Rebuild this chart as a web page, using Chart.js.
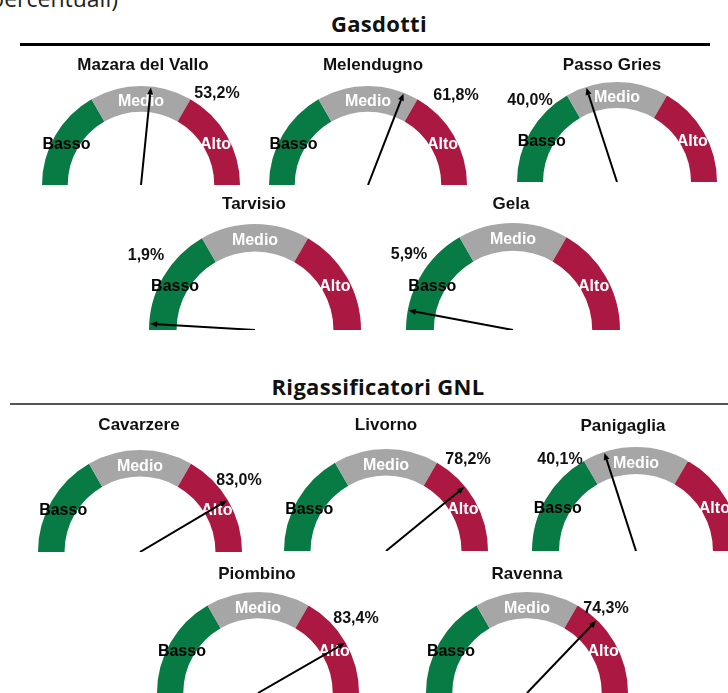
<!DOCTYPE html>
<html><head><meta charset="utf-8">
<script src="https://cdn.jsdelivr.net/npm/chart.js@4.4.0/dist/chart.umd.min.js"></script>
<style>
html,body{margin:0;padding:0;background:#fff;}
#page{position:relative;width:728px;height:693px;overflow:hidden;}
.sec{position:absolute;font-family:"Open Sans",sans-serif;font-weight:700;font-size:22px;line-height:22px;letter-spacing:0.3px;color:#111;text-align:center;white-space:nowrap;}
#note{position:absolute;left:-200px;top:-13px;width:318px;text-align:right;font-family:"Open Sans",sans-serif;font-size:23px;line-height:23px;color:#222;white-space:nowrap;}
.rule{position:absolute;}
.g{position:absolute;}
</style></head><body>
<div id="page">
  <div id="note">percentuali)</div>
  <div class="sec" style="left:179px;top:12px;width:400px">Gasdotti</div>
  <div class="rule" style="left:20px;top:43px;width:690px;height:3px;background:#000"></div>
  <div class="sec" style="left:178px;top:375px;width:400px">Rigassificatori GNL</div>
  <div class="rule" style="left:10px;top:403px;width:718px;height:2px;background:#555"></div>
</div>
<script>
// ---- data ----
const bands = ["Basso", "Medio", "Alto"];
const bandShares = [1, 1, 1];
const bandColors = ["#087a43", "#a6a6a6", "#ab1842"];
const bandTextColors = ["#000000", "#ffffff", "#ffffff"];

const gasdottiNames = ["Mazara del Vallo", "Melendugno", "Passo Gries", "Tarvisio", "Gela"];
const gasdottiValues = [53.2, 61.8, 40.0, 1.9, 5.9];

const gnlNames = ["Cavarzere", "Livorno", "Panigaglia", "Piombino", "Ravenna"];
const gnlValues = [83.0, 78.2, 40.1, 83.4, 74.3];

// ---- layout (page coordinates) ----
const gasdottiLayout = [
  {cx:141, cy:185, r:99,  nameX:143, nameY:65,  pctX:217, pctY:94},
  {cx:368, cy:185, r:99,  nameX:373, nameY:65,  pctX:456, pctY:96},
  {cx:617, cy:182, r:100, nameX:612, nameY:65,  pctX:530, pctY:101},
  {cx:255, cy:330, r:106, nameX:254, nameY:204, pctX:146, pctY:256},
  {cx:513, cy:330, r:107, nameX:511, nameY:204, pctX:409, pctY:255}
];
const gnlLayout = [
  {cx:140, cy:552, r:102, nameX:139, nameY:425, pctX:239, pctY:481},
  {cx:386, cy:551, r:102, nameX:386, nameY:425, pctX:468, pctY:460},
  {cx:636, cy:551, r:104, nameX:623, nameY:426, pctX:560, pctY:460},
  {cx:258, cy:693, r:101, nameX:257, nameY:574, pctX:356, pctY:619},
  {cx:527, cy:693, r:101, nameX:527, nameY:574, pctX:606, pctY:609}
];

const PAD = 45, PADT = 48;
const FONT = '"Liberation Sans", Arial, sans-serif';

function fmt(v){ return v.toFixed(1).replace('.', ',') + '%'; }

const gaugePlugin = {
  id: 'gauge',
  afterDatasetsDraw(chart, args, opts) {
    const ctx = chart.ctx;
    const meta = chart.getDatasetMeta(0);
    const arcs = meta.data;
    const first = arcs[0], last = arcs[arcs.length - 1];
    const cx = first.x, cy = first.y;
    const outer = first.outerRadius, inner = first.innerRadius;
    const start = first.startAngle, end = last.endAngle;
    ctx.save();
    // band labels
    ctx.font = 'bold 16px ' + FONT;
    ctx.textAlign = 'center';
    ctx.textBaseline = 'middle';
    arcs.forEach((a, i) => {
      const mid = (a.startAngle + a.endAngle) / 2;
      const rr = (inner + outer) / 2;
      ctx.fillStyle = bandTextColors[i];
      ctx.fillText(bands[i], cx + Math.cos(mid) * rr, cy + Math.sin(mid) * rr + 3);
    });
    // name
    ctx.fillStyle = '#111';
    ctx.font = 'bold 17px ' + FONT;
    ctx.fillText(opts.name, opts.nameX, opts.nameY);
    // value label
    ctx.font = 'bold 16px ' + FONT;
    ctx.fillText(fmt(opts.value), opts.pctX, opts.pctY);
    // needle
    const ang = start + (opts.value / 100) * (end - start);
    const L = outer - 1;
    const tx = cx + Math.cos(ang) * L, ty = cy + Math.sin(ang) * L;
    const hl = 7, hw = 3;
    const bx = cx + Math.cos(ang) * (L - hl), by = cy + Math.sin(ang) * (L - hl);
    ctx.strokeStyle = '#000';
    ctx.lineWidth = 2;
    ctx.beginPath();
    ctx.moveTo(cx, cy);
    ctx.lineTo(bx, by);
    ctx.stroke();
    ctx.fillStyle = '#000';
    ctx.beginPath();
    ctx.moveTo(tx, ty);
    ctx.lineTo(bx - Math.sin(ang) * hw, by + Math.cos(ang) * hw);
    ctx.lineTo(bx + Math.sin(ang) * hw, by - Math.cos(ang) * hw);
    ctx.closePath();
    ctx.fill();
    ctx.restore();
  }
};

function makeGauge(name, value, lay) {
  const page = document.getElementById('page');
  const left = lay.cx - lay.r - PAD, top = lay.cy - lay.r - PADT;
  const w = 2 * lay.r + 2 * PAD, h = lay.r + PADT;
  const div = document.createElement('div');
  div.className = 'g';
  div.style.left = left + 'px';
  div.style.top = top + 'px';
  div.style.width = w + 'px';
  div.style.height = h + 'px';
  const cv = document.createElement('canvas');
  cv.width = w; cv.height = h;
  cv.style.width = w + 'px'; cv.style.height = h + 'px';
  div.appendChild(cv);
  page.appendChild(div);
  new Chart(cv, {
    type: 'doughnut',
    data: {
      labels: bands,
      datasets: [{
        data: bandShares,
        backgroundColor: bandColors,
        borderWidth: 0,
        hoverOffset: 0,
        offset: 0
      }]
    },
    options: {
      responsive: false,
      devicePixelRatio: 1,
      animation: false,
      events: [],
      rotation: -90,
      circumference: 180,
      cutout: '74%',
      layout: { padding: { left: PAD, right: PAD, top: PADT, bottom: 0 } },
      plugins: {
        legend: { display: false },
        tooltip: { enabled: false },
        title: { display: false },
        gauge: {
          name: name, value: value,
          nameX: lay.nameX - left, nameY: lay.nameY - top,
          pctX: lay.pctX - left, pctY: lay.pctY - top
        }
      }
    },
    plugins: [gaugePlugin]
  });
}

gasdottiNames.forEach((n, i) => makeGauge(n, gasdottiValues[i], gasdottiLayout[i]));
gnlNames.forEach((n, i) => makeGauge(n, gnlValues[i], gnlLayout[i]));
</script>
</body></html>
